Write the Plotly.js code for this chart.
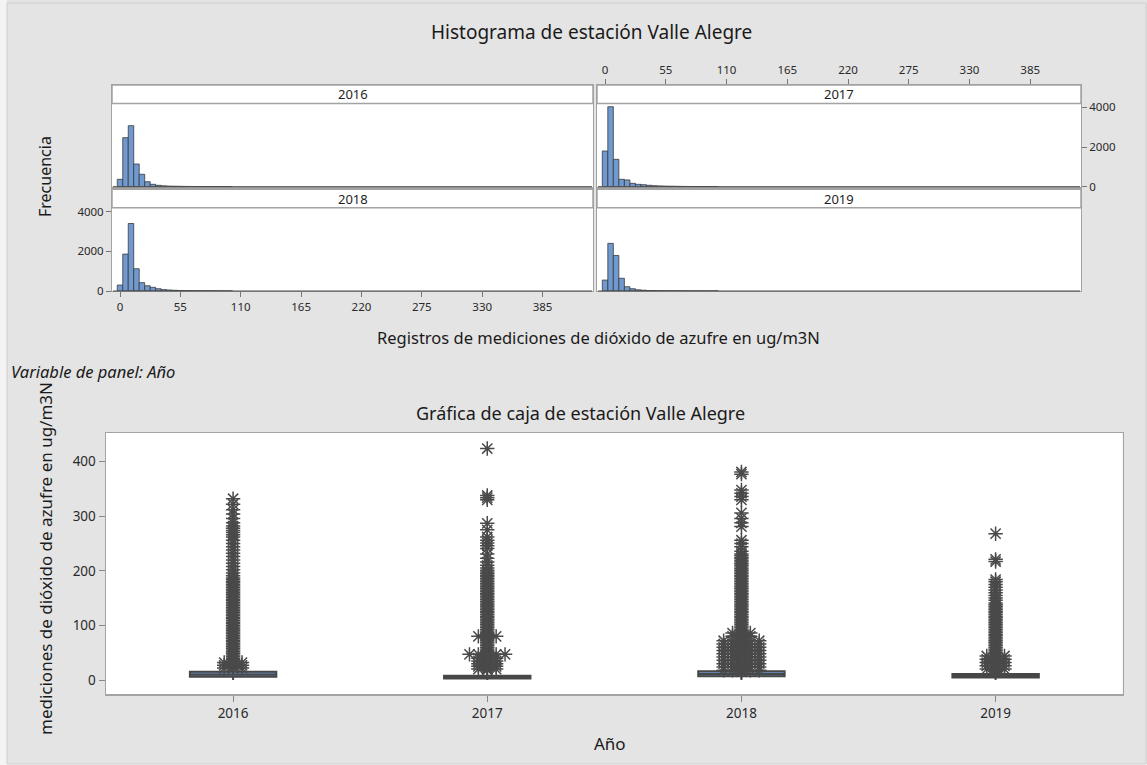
<!DOCTYPE html>
<html>
<head>
<meta charset="utf-8">
<script src="https://cdn.plot.ly/plotly-3.0.1.min.js"></script>
<style>
  html, body { margin: 0; padding: 0; background: #ffffff; }
  #chart { width: 1147px; height: 765px; }
</style>
</head>
<body>
<div id="chart"></div>
<script>
// ---- Histogram data: SO2 readings (ug/m3N), bins of width 5 centred on these values ----
const years = ['2016', '2017', '2018', '2019'];
const binCenters = [0, 5, 10, 15, 20, 25, 30, 35, 40, 45, 50, 55, 60, 65, 70, 75, 80, 85, 90, 95, 100];
const freq2016 = [373, 2470, 3073, 1143, 625, 250, 120, 70, 45, 30, 25, 20, 15, 12, 10, 8, 6, 5, 4, 3, 3];
const freq2017 = [1800, 4030, 1380, 373, 340, 170, 120, 100, 70, 50, 40, 30, 25, 20, 15, 12, 10, 8, 6, 5, 4];
const freq2018 = [300, 1860, 3400, 1120, 420, 265, 185, 115, 70, 50, 35, 25, 20, 15, 12, 10, 8, 6, 5, 4, 3];
const freq2019 = [550, 2400, 1790, 640, 215, 115, 60, 40, 25, 18, 12, 10, 8, 6, 5, 4, 3, 3, 2, 2, 2];
const histTicks = [0, 55, 110, 165, 220, 275, 330, 385];
const freqTicks = [0, 2000, 4000];

// ---- Box plot summary per year ----
const boxQ1 = [6, 3, 7, 4.5];
const boxMedian = [10, 5, 11, 7.5];
const boxQ3 = [15, 8, 16, 11];
const boxLowerFence = [0, 0, 0, 0];
const boxUpperFence = [28, 15, 29, 20];
const boxTicks = [0, 100, 200, 300, 400];

// ---- Outliers (single readings) per year ----
const outliers2016 = [22, 25, 28, 31, 34, 37, 40, 43, 46, 49, 52, 55, 58, 61, 64, 67, 70, 73, 76, 79, 82, 85, 88, 91, 94, 97, 100, 103, 106, 109, 112, 115, 118, 121, 124, 127, 130, 133, 136, 139, 142, 145, 148, 151, 154, 157, 160, 163, 166, 169, 172, 175, 178, 181, 184, 187,
  191, 196, 202, 208, 214, 220, 226, 232, 238, 244, 250, 256, 262, 266, 270, 274, 278, 282, 288, 296, 304, 312, 322, 332];
const outliers2017 = [18, 21, 24, 27, 30, 33, 36, 39, 42, 45, 48, 51, 54, 57, 60, 63, 66, 69, 72, 75, 78, 81, 84, 87, 90, 93, 96, 99, 102, 105, 108, 111, 114, 117, 120, 123, 126, 129, 132, 135, 138, 141, 144, 147, 150, 153, 156, 159, 162, 165, 168, 171, 174, 177, 180, 183, 186, 189, 192, 195, 198, 201, 205,
  210, 216, 223, 231, 241, 246, 251, 256, 262, 275, 287, 330, 334, 338, 424];
const outliers2018 = [15, 18, 21, 24, 27, 30, 33, 36, 39, 42, 45, 48, 51, 54, 57, 60, 63, 66, 69, 72, 75, 78, 81, 84, 87, 90, 93, 96, 99, 102, 105, 108, 111, 114, 117, 120, 123, 126, 129, 132, 135, 138, 141, 144, 147, 150, 153, 156, 159, 162, 165, 168, 171, 174, 177, 180, 183, 186, 189, 192, 195, 198, 201, 204, 207, 210, 213, 216, 219, 222, 225, 228, 231,
  236, 244, 250, 256, 281, 288, 296, 306, 330, 336, 342, 348, 377, 381];
const outliers2019 = [15, 18, 21, 24, 27, 30, 33, 36, 39, 42, 45, 48, 51, 54, 57, 60, 63, 66, 69, 72, 75, 78, 81, 84, 87, 90, 93, 96, 99, 102, 105, 108, 111, 114, 117, 120, 123, 126, 129, 132, 135, 138, 141, 146,
  150, 155, 160, 165, 170, 175, 180, 184, 217, 221, 268];

// ---- Tied outliers (same reading repeated), drawn side by side ----
const tieValues2016 = [22, 27, 32];
const tieCounts2016 = [3, 3, 3];
const tieValues2017 = [20, 25, 30, 35, 40, 47, 80];
const tieCounts2017 = [3, 3, 3, 3, 3, 5, 3];
const tieValues2018 = [18, 24, 30, 36, 42, 48, 54, 60, 66, 72, 80, 86];
const tieCounts2018 = [5, 5, 5, 5, 5, 5, 5, 5, 5, 5, 3, 3];
const tieValues2019 = [20, 26, 32, 38, 44];
const tieCounts2019 = [3, 3, 3, 3, 3];

// ---------------------------------------------------------------------------
const W = 1147, H = 765;
const px = v => v / W;
const py = v => 1 - v / H;

const FONT = 'Noto Sans, Open Sans, sans-serif';
const BAR_FILL = '#7099cf';
const BAR_LINE = '#3a3a3a';
const FRAME = '#a3a3a3';
const STAR = '#4a4a4a';

// Panel geometry (pixels): columns and rows of the 2x2 histogram grid
const colX = [[112, 593], [597, 1081]];
const rowY = [[85, 186.7], [189.3, 291]];
const stripH = 18.5;
const histX = [-7.3, 431];
// 0 sits on the panel floor; 4000 lies 79.4 px above it
const histTop = 4000 * (rowY[0][1] - rowY[0][0]) / 79.4;

const freqs = [freq2016, freq2017, freq2018, freq2019];
const panelPos = [[0, 0], [1, 0], [0, 1], [1, 1]];

const traces = [];
const layout = {
  width: W, height: H,
  margin: { l: 0, r: 0, t: 0, b: 0 },
  paper_bgcolor: '#e4e4e4',
  plot_bgcolor: '#ffffff',
  showlegend: false,
  font: { family: FONT, size: 11, color: '#222' },
  bargap: 0,
  shapes: [],
  annotations: []
};

const tickFontHist = { size: 11.5, color: '#2a2a2a' };

panelPos.forEach(([c, r], i) => {
  const n = i + 1;
  const xa = 'xaxis' + (n === 1 ? '' : n);
  const ya = 'yaxis' + (n === 1 ? '' : n);
  const xr = 'x' + (n === 1 ? '' : n);
  const yr = 'y' + (n === 1 ? '' : n);

  traces.push({
    type: 'bar', x: binCenters, y: freqs[i], width: 5,
    xaxis: xr, yaxis: yr,
    marker: { color: BAR_FILL, line: { color: BAR_LINE, width: 0.8 } },
    hoverinfo: 'x+y'
  });

  layout[xa] = {
    domain: [px(colX[c][0]), px(colX[c][1])], range: histX, anchor: yr,
    showline: true, mirror: true, linecolor: FRAME, linewidth: 1,
    showgrid: false, zeroline: false,
    showticklabels: false, ticks: '',
    tickvals: histTicks, tickfont: tickFontHist
  };
  layout[ya] = {
    domain: [py(rowY[r][1]), py(rowY[r][0])], range: [0, histTop], anchor: xr,
    showline: true, mirror: true, linecolor: FRAME, linewidth: 1,
    showgrid: false, zeroline: false,
    showticklabels: false, ticks: '',
    tickvals: freqTicks, tickfont: tickFontHist
  };

  // Strip header with the year
  layout.shapes.push({
    type: 'rect', xref: 'paper', yref: 'paper', layer: 'above',
    x0: px(colX[c][0]), x1: px(colX[c][1]),
    y0: py(rowY[r][0] + stripH), y1: py(rowY[r][0]),
    fillcolor: '#ffffff', line: { color: FRAME, width: 1.5 }
  });
  layout.annotations.push({
    xref: 'paper', yref: 'paper', showarrow: false,
    x: px((colX[c][0] + colX[c][1]) / 2), y: py(rowY[r][0] + stripH / 2),
    text: years[i], font: { size: 13, color: '#1e1e1e' },
    xanchor: 'center', yanchor: 'middle'
  });
  // Darker floor line of each panel
  layout.shapes.push({
    type: 'line', xref: 'paper', yref: 'paper', layer: 'above',
    x0: px(colX[c][0] + 1), x1: px(colX[c][1] - 1),
    y0: py(rowY[r][1]), y1: py(rowY[r][1]),
    line: { color: '#4a4a4a', width: 1 }
  });
});

// Outer tick marks/labels: top & right on the 2017 panel, bottom & left on the 2018 panel
Object.assign(layout.xaxis2, { side: 'top', ticks: 'outside', ticklen: 5, tickcolor: '#777', showticklabels: true });
Object.assign(layout.yaxis2, { side: 'right', ticks: 'outside', ticklen: 5, tickcolor: '#777', showticklabels: true });
Object.assign(layout.xaxis3, { side: 'bottom', ticks: 'outside', ticklen: 5, tickcolor: '#777', showticklabels: true });
Object.assign(layout.yaxis3, { side: 'left', ticks: 'outside', ticklen: 5, tickcolor: '#777', showticklabels: true });

// ---- Box plot ----
const yearIndex = years.map((_, i) => i);
traces.push({
  type: 'box', xaxis: 'x5', yaxis: 'y5',
  x: yearIndex, q1: boxQ1, median: boxMedian, q3: boxQ3,
  lowerfence: boxLowerFence, upperfence: boxUpperFence,
  width: 0.34, whiskerwidth: 0, boxpoints: false,
  fillcolor: '#6f97cc', line: { color: '#474747', width: 2 },
  hoverinfo: 'y'
});

const outlierSets = [outliers2016, outliers2017, outliers2018, outliers2019];
const tieValueSets = [tieValues2016, tieValues2017, tieValues2018, tieValues2019];
const tieCountSets = [tieCounts2016, tieCounts2017, tieCounts2018, tieCounts2019];
const tieStep = 0.035;   // horizontal spacing between repeated readings (category units)

const starX = [], starY = [];
outlierSets.forEach((vals, i) => {
  vals.forEach(v => { starX.push(i); starY.push(v); });
  tieValueSets[i].forEach((v, k) => {
    const n = tieCountSets[i][k];
    for (let j = 0; j < n; j++) {
      starX.push(i + (j - (n - 1) / 2) * tieStep);
      starY.push(v);
    }
  });
});
traces.push({
  type: 'scatter', mode: 'markers', xaxis: 'x5', yaxis: 'y5',
  x: starX, y: starY,
  marker: { symbol: 'asterisk-open', size: 12, color: STAR, line: { color: STAR, width: 1.5 } },
  hoverinfo: 'y'
});

const tickFontBox = { size: 13.5, color: '#2a2a2a' };
layout.xaxis5 = {
  domain: [px(106), px(1122.7)], anchor: 'y5', range: [-0.5, 3.5],
  tickvals: yearIndex, ticktext: years,
  ticks: 'outside', ticklen: 6, tickcolor: '#888',
  showline: true, mirror: true, linecolor: FRAME, linewidth: 1.5,
  showgrid: false, zeroline: false,
  tickfont: tickFontBox
};
layout.yaxis5 = {
  domain: [py(694), py(433)], anchor: 'x5', range: [-25.6, 452.4],
  tickvals: boxTicks,
  ticks: 'outside', ticklen: 6, tickcolor: '#888',
  showline: true, mirror: true, linecolor: FRAME, linewidth: 1.5,
  showgrid: false, zeroline: false,
  tickfont: tickFontBox
};

// ---- Text ----
function label(text, x, y, size, opts) {
  layout.annotations.push(Object.assign({
    xref: 'paper', yref: 'paper', showarrow: false,
    x: px(x), y: py(y), text: text,
    font: { size: size, color: '#1a1a1a', family: FONT },
    xanchor: 'center', yanchor: 'middle'
  }, opts || {}));
}
label('Histograma de estación Valle Alegre', 591, 32, 19);
label('Frecuencia', 45, 177, 16, { textangle: -90 });
label('Registros de mediciones de dióxido de azufre en ug/m3N', 598, 337, 16.5);
label('<i>Variable de panel: Año</i>', 9, 371, 16.5, { xanchor: 'left' });
label('Gráfica de caja de estación Valle Alegre', 580, 413, 18);
label('mediciones de dióxido de azufre en ug/m3N', 45, 559, 17, { textangle: -90 });
label('Año', 610, 743, 17);

// Light outer frame of the figure
layout.shapes.push(
  { type: 'rect', xref: 'paper', yref: 'paper', layer: 'below', x0: 0, x1: px(7), y0: 0, y1: 1, fillcolor: '#f4f4f4', line: { width: 0 } },
  { type: 'rect', xref: 'paper', yref: 'paper', layer: 'below', x0: 0, x1: 1, y0: 0, y1: py(764), fillcolor: '#f4f4f4', line: { width: 0 } },
  { type: 'rect', xref: 'paper', yref: 'paper', layer: 'above', x0: px(7), x1: px(1146), y0: py(764), y1: py(3), fillcolor: 'rgba(0,0,0,0)', line: { color: '#cfcfcf', width: 1 } }
);

Plotly.newPlot('chart', traces, layout, { displayModeBar: false, staticPlot: true });
</script>
</body>
</html>
